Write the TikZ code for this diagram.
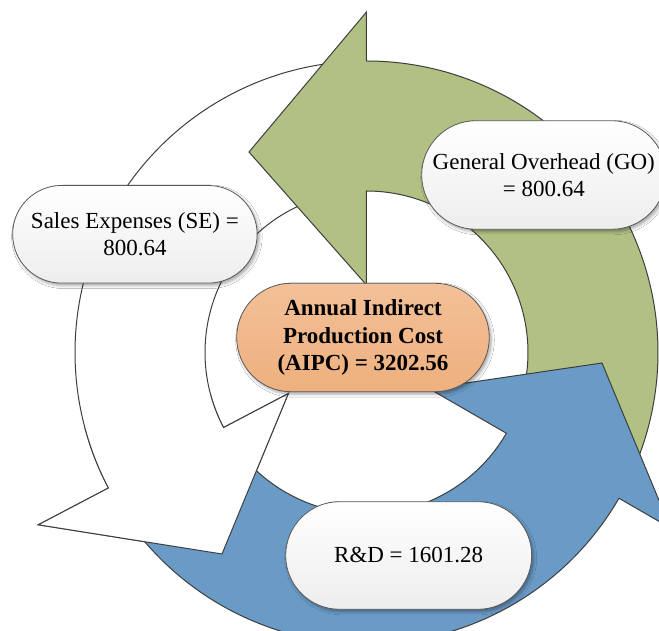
\documentclass[tikz,border=0pt]{standalone}
\usepackage{fontspec}
\setmainfont{Liberation Serif}
\usetikzlibrary{shapes.misc,shadows.blur}

\definecolor{arrowgreen}{RGB}{177,193,131}
\definecolor{arrowblue}{RGB}{106,155,199}
\definecolor{edgegray}{RGB}{62,62,62}
\definecolor{pillgray}{RGB}{90,90,90}
\definecolor{orangetop}{RGB}{243,192,152}
\definecolor{orangebot}{RGB}{238,176,126}

% ring: centre at the origin, inner radius 161.5pt, outer radius 291.5pt
\def\whiteshape{(95:161.5pt) -- (95:291.5pt)
  arc[start angle=95, end angle=207.7, radius=291.5pt]
  -- (207.7:370.7pt) -- (-144.5pt,-201.5pt) -- (207.7:88.3pt)
  -- (207.7:161.5pt)
  arc[start angle=207.7, end angle=95, radius=161.5pt] -- cycle}
\def\greenshape{(-25:161.5pt) -- (-25:291.5pt)
  arc[start angle=-25, end angle=90, radius=291.5pt]
  -- (90:340.5pt) -- (-117.5pt,200.5pt) -- (90:67.5pt)
  -- (90:161.5pt)
  arc[start angle=90, end angle=-25, radius=161.5pt] -- cycle}
\def\blueshape{(215:161.5pt) -- (215:291.5pt)
  arc[start angle=215, end angle=330, radius=291.5pt]
  -- (330:351pt) -- (235.5pt,-10.5pt) -- (330:72pt)
  -- (330:161.5pt)
  arc[start angle=330, end angle=215, radius=161.5pt] -- cycle}

\begin{document}
\begin{tikzpicture}[
  ringarrow/.style={draw=edgegray, line width=1pt, line join=miter},
  pill/.style={rounded rectangle, draw=pillgray, line width=0.8pt,
    inner sep=0pt, align=center,
    font=\fontsize{23}{27.5}\selectfont,
    top color=white, bottom color=black!7,
    blur shadow={shadow xshift=2pt, shadow yshift=-2.5pt,
      shadow blur radius=3pt, shadow opacity=35}},
  corepill/.style={pill, top color=orangetop, bottom color=orangebot,
    font=\fontsize{23}{27.5}\selectfont\bfseries},
]
\useasboundingbox (-366.5pt,-278.5pt) rectangle (292.5pt,352.5pt);
\fill[white] (-366.5pt,-278.5pt) rectangle (292.5pt,352.5pt);

% three circular arrows, each head covering the next tail
\path[ringarrow, fill=white] \whiteshape;
\path[ringarrow, fill=arrowgreen] \greenshape;
\path[ringarrow, fill=arrowblue] \blueshape;
\begin{scope}
  \clip (0,0) -- (195:430pt) arc[start angle=195, end angle=252, radius=430pt] -- cycle;
  \path[ringarrow, fill=white] \whiteshape;
\end{scope}

% labels
\node[pill, minimum width=244.5pt, minimum height=97.6pt] (se) at (-231.6pt,118.2pt)
  {Sales Expenses (SE) =\\800.64};
\node[pill, minimum width=244.2pt, minimum height=108.6pt] (go) at (177.3pt,177.5pt)
  {General Overhead (GO)\\= 800.64};
\node[pill, minimum width=246pt, minimum height=107.6pt] (rd) at (42.2pt,-203pt)
  {R\&D = 1601.28};
\node[corepill, minimum width=252.6pt, minimum height=108.4pt] (aipc) at (-3.5pt,15pt)
  {Annual Indirect\\Production Cost\\(AIPC) = 3202.56};
\end{tikzpicture}
\end{document}
